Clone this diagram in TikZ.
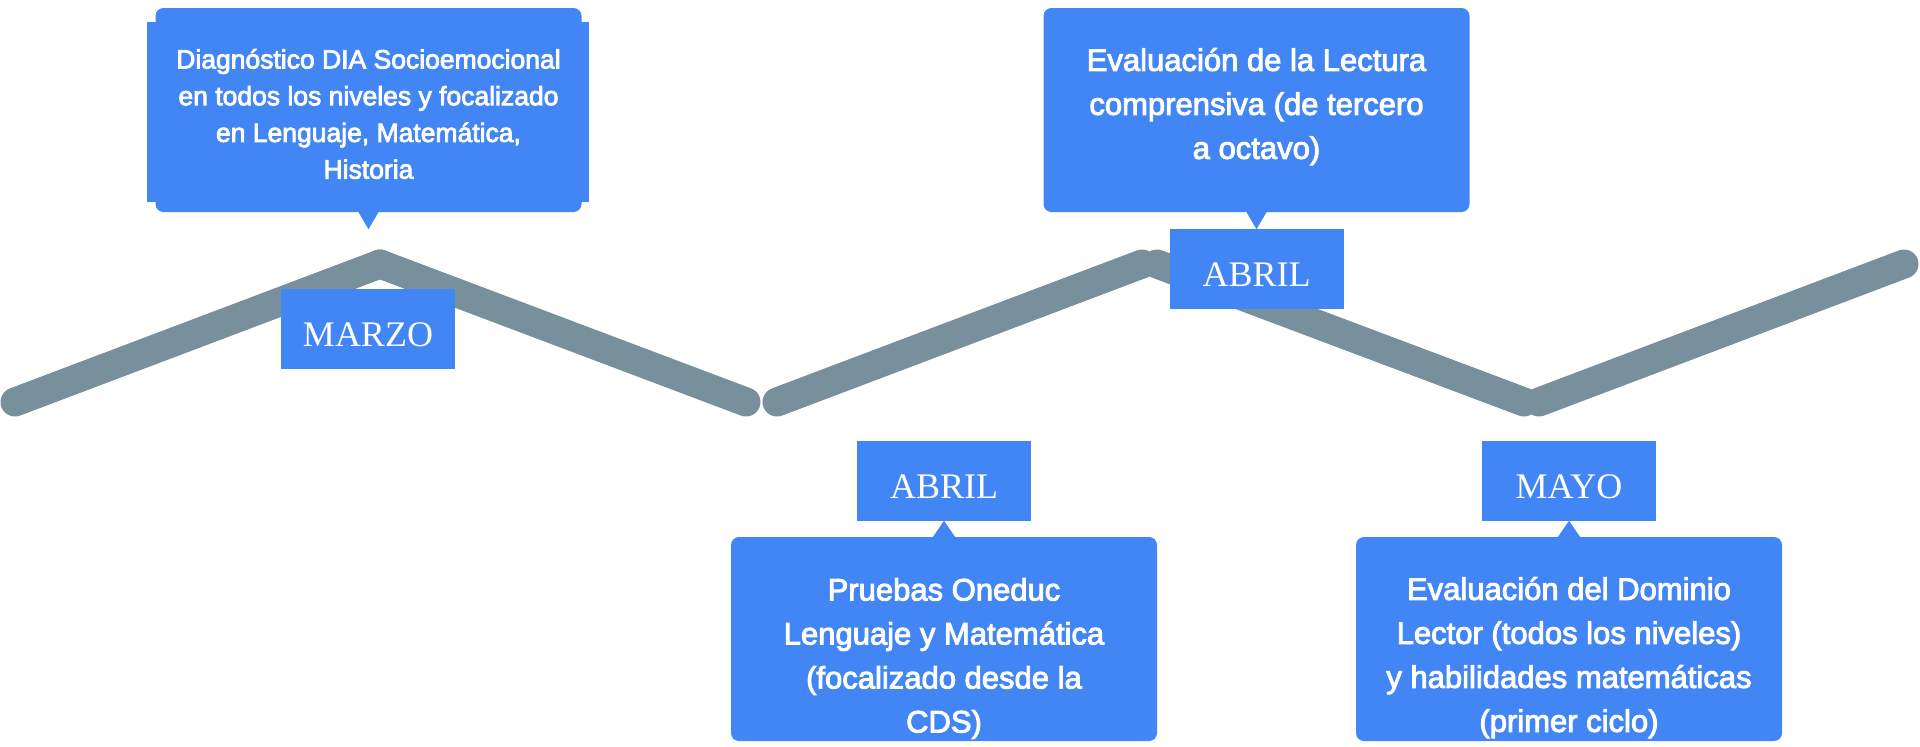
\documentclass[tikz,border=0pt]{standalone}
\usepackage{fontspec}
\setmainfont{Liberation Sans}
\newfontfamily\boxfont{Liberation Sans}[FakeBold=3]
\newfontfamily\monthfont{Liberation Serif}
\usetikzlibrary{positioning}
\definecolor{calloutblue}{HTML}{4285F4}
\definecolor{linegray}{HTML}{78909C}
\tikzset{
    zigline/.style={line width=29pt, draw=linegray, line cap=round},
    evbox/.style={fill=calloutblue, rounded corners=8pt, minimum width=426pt, minimum height=204pt, inner sep=0pt},
    evtext/.style={text=white, align=center, inner sep=0pt, font=\boxfont\fontsize{31}{44}\selectfont},
    monthbox/.style={fill=calloutblue, text=white, minimum width=174pt, minimum height=80pt, inner sep=0pt, text height=35pt, text depth=0pt, font=\monthfont\fontsize{36}{40}\selectfont},
}
\begin{document}
\begin{tikzpicture}[x=1pt, y=-1pt]
        \useasboundingbox (0,0) rectangle (1920,747);
        % zigzag line
        \foreach \xa/\ya/\xb/\yb in {
        15/402/380/264,
        380/264/746/402,
        777/402/1142/264,
        1157/264/1524/402,
        1539/402/1904/264}{
            \draw[zigline](\xa,\ya)--(\xb,\yb);
        }
        % callouts
        \node[evbox] (d1) at (368.5,110) {};
        \fill[calloutblue]([xshift=-8pt,yshift=-14pt]d1.north west) rectangle ([xshift=7pt,yshift=10pt]d1.south east);
        \node[evbox] (d2) at (1256.5,110) {};
        \node[evbox] (d3) at (944,639) {};
        \node[evbox] (d4) at (1569,639) {};
        \node[evtext, font=\boxfont\fontsize{26.5}{36.7}\selectfont, below=41pt of d1.north] (t1) {Diagnóstico DIA Socioemocional\\en todos los niveles y focalizado\\en Lenguaje, Matemática,\\Historia};
        \node[evtext, below=40pt of d2.north] (t2) {Evaluación de la Lectura\\comprensiva (de tercero\\a octavo)};
        \node[evtext, below=41pt of d3.north] (t3) {Pruebas Oneduc\\Lenguaje y Matemática\\(focalizado desde la\\CDS)};
        \node[evtext, below=40pt of d4.north] (t4) {Evaluación del Dominio\\Lector (todos los niveles)\\y habilidades matemáticas\\(primer ciclo)};
        % months
        \node[monthbox] (m1) at (368,329) {MARZO};
        \node[monthbox, below=17pt of d2] (m2) {ABRIL};
        \node[monthbox, above=16pt of d3] (m3) {ABRIL};
        \node[monthbox, above=16pt of d4] (m4) {MAYO};
        % pointers
        \fill[calloutblue]([xshift=-10pt]d1.south)--++(10,17)--++(10,-17)--cycle;
        \fill[calloutblue]([xshift=-10pt]d2.south)--(m2.north)--([xshift=10pt]d2.south)--cycle;
        \fill[calloutblue]([xshift=-11pt]d3.north)--(m3.south)--([xshift=11pt]d3.north)--cycle;
        \fill[calloutblue]([xshift=-11pt]d4.north)--(m4.south)--([xshift=11pt]d4.north)--cycle;
    \end{tikzpicture}
\end{document}
